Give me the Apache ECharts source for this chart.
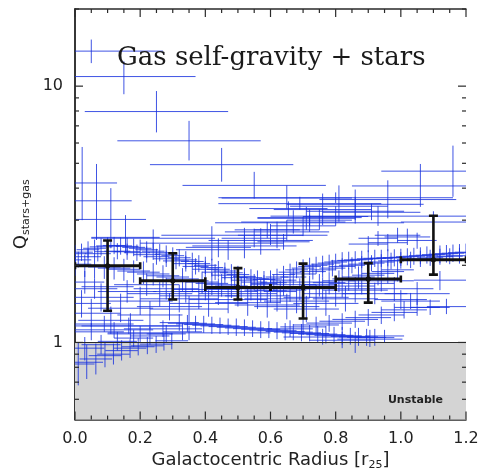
<!DOCTYPE html>
<html><head><meta charset="utf-8">
<script src="https://cdn.jsdelivr.net/npm/echarts@6.0.0/dist/echarts.min.js"></script>
<style>html,body{margin:0;padding:0;background:#fff}#c{width:483px;height:476px}</style>
</head><body><div id="c"></div>
<script>
// ---- axis ticks ----
const xTickLabels = ['0.0','0.2','0.4','0.6','0.8','1.0','1.2'];
const xMajorTicks = [0, 0.2, 0.4, 0.6, 0.8, 1.0, 1.2];
const xMinorTicks = [0.05,0.1,0.15,0.25,0.3,0.35,0.45,0.5,0.55,0.65,0.7,0.75,0.85,0.9,0.95,1.05,1.1,1.15];
const yTickLabels = ['1','10'];
const yMajorTicks = [1, 10];
const yMinorTicks = [0.6,0.7,0.8,0.9,2,3,4,5,6,7,8,9,20];

// ---- blue profiles: rows are [radius, Q, radiusErr, Qlow, Qhigh] ----
const topGalaxy = [
  [0.05,13.7,0.22,12.3,15.2],[0.15,10.9,0.22,9.3,12.5],[0.25,7.96,0.22,6.6,9.57],
  [0.35,6.12,0.22,5.13,7.32],[0.45,4.94,0.22,4.24,5.74],[0.55,4.10,0.22,3.64,4.63],
  [0.65,3.66,0.2,3.33,4.1]
];
const rightGalaxy = [
  [0.86,3.46,0.21,3.0,3.95],[0.96,3.61,0.21,3.05,4.29],[1.06,4.08,0.21,3.38,4.97],
  [1.16,4.66,0.22,3.70,5.86],[0.93,3.11,0.33,2.85,3.4],[1.10,2.95,0.1,2.75,3.25]
];
const leftGalaxy = [
  [0.022,4.19,0.107,3.0,5.79],[0.066,3.57,0.108,2.51,4.97],[0.11,3.02,0.108,2.33,4.0],
  [0.155,2.57,0.105,2.23,3.14],[0.24,2.55,0.19,2.3,2.76],[0.52,2.62,0.255,2.45,2.8],
  [0.42,2.44,0.22,2.09,2.84]
];
const risingTrack = [
  [0.47,2.30,0.16,2.10,2.51],[0.52,2.38,0.16,2.13,2.62],[0.57,2.50,0.16,2.20,2.79],
  [0.62,2.70,0.16,2.33,2.96],[0.67,2.95,0.16,2.66,3.28],[0.71,3.05,0.15,2.75,3.38],
  [0.76,3.30,0.15,2.87,3.81],[0.81,3.40,0.15,2.96,4.1],[0.86,3.25,0.15,2.91,3.7],
  [0.91,3.22,0.15,3.0,3.48],[0.44,2.35,0.1,2.15,2.55],[0.55,2.55,0.1,2.35,2.78],
  [0.60,2.62,0.1,2.4,2.9],[0.65,2.75,0.1,2.5,3.0],[0.70,2.85,0.1,2.6,3.1],
  [0.75,3.0,0.1,2.75,3.3],[0.80,3.1,0.1,2.85,3.4],
  [0.69,3.48,0.25,3.3,3.7],[0.655,3.33,0.12,3.1,3.55],[0.72,3.07,0.16,2.85,3.3],
  [0.72,2.93,0.29,2.7,3.15],[0.59,2.75,0.1,2.55,2.95],[0.64,2.47,0.08,2.3,2.65],
  [0.80,3.67,0.36,3.5,3.85]
];
const denseBand = [
  [0.00,2.22,0.035,2.05,2.40],[0.02,2.25,0.035,2.08,2.43],[0.04,2.30,0.035,2.13,2.48],
  [0.06,2.33,0.035,2.16,2.52],[0.08,2.36,0.035,2.18,2.55],[0.10,2.38,0.035,2.20,2.57],
  [0.12,2.39,0.035,2.21,2.58],[0.14,2.38,0.035,2.20,2.57],[0.16,2.37,0.035,2.19,2.56],
  [0.18,2.35,0.035,2.17,2.54],[0.20,2.33,0.035,2.16,2.52],[0.22,2.30,0.035,2.13,2.48],
  [0.24,2.27,0.035,2.10,2.45],[0.26,2.24,0.035,2.07,2.42],[0.28,2.21,0.035,2.04,2.39],
  [0.30,2.18,0.035,2.02,2.35],[0.32,2.14,0.035,1.98,2.31],[0.34,2.10,0.035,1.94,2.27],
  [0.36,2.07,0.035,1.91,2.24],[0.38,2.03,0.035,1.88,2.19],[0.40,2.00,0.035,1.85,2.16],
  [0.42,1.96,0.035,1.81,2.12],[0.44,1.93,0.035,1.79,2.08],[0.46,1.90,0.035,1.76,2.05],
  [0.48,1.87,0.035,1.73,2.02],[0.50,1.84,0.035,1.70,1.99],[0.52,1.81,0.035,1.67,1.95],
  [0.54,1.79,0.035,1.66,1.93],[0.56,1.77,0.035,1.64,1.91],[0.58,1.76,0.035,1.63,1.90],
  [0.60,1.77,0.035,1.64,1.91],[0.62,1.80,0.035,1.67,1.94],[0.64,1.84,0.035,1.70,1.99],
  [0.66,1.88,0.035,1.74,2.03],[0.68,1.92,0.035,1.78,2.07],[0.70,1.95,0.035,1.80,2.11],
  [0.72,1.98,0.035,1.83,2.14],[0.74,2.00,0.035,1.85,2.16],[0.76,2.02,0.035,1.87,2.18],
  [0.78,2.04,0.035,1.89,2.20],[0.80,2.06,0.035,1.91,2.22],[0.82,2.08,0.035,1.92,2.25],
  [0.84,2.09,0.035,1.93,2.26],[0.86,2.10,0.035,1.94,2.27],[0.88,2.11,0.035,1.95,2.28],
  [0.90,2.12,0.035,1.96,2.29],[0.92,2.13,0.035,1.97,2.30],[0.94,2.13,0.035,1.97,2.30],
  [0.96,2.14,0.035,1.98,2.31],[0.98,2.14,0.035,1.98,2.31],[1.00,2.15,0.035,1.99,2.32],
  [1.02,2.16,0.035,2.00,2.33],[1.04,2.17,0.035,2.01,2.34],[1.06,2.18,0.035,2.02,2.35],
  [1.08,2.19,0.035,2.03,2.37],[1.10,2.20,0.035,2.04,2.38],[1.12,2.21,0.035,2.04,2.39],
  [1.14,2.22,0.035,2.05,2.40],[1.16,2.23,0.035,2.06,2.41],[1.18,2.24,0.035,2.07,2.42],
  [1.20,2.25,0.035,2.08,2.43]
];
const denseBand2 = [
  [0.01,2.10,0.04,1.96,2.26],[0.04,2.16,0.04,2.01,2.32],[0.07,2.22,0.04,2.07,2.38],
  [0.10,2.26,0.04,2.10,2.43],[0.13,2.27,0.04,2.11,2.44],[0.16,2.26,0.04,2.10,2.43],
  [0.19,2.24,0.04,2.08,2.41],[0.22,2.20,0.04,2.05,2.37],[0.25,2.16,0.04,2.01,2.32],
  [0.28,2.12,0.04,1.97,2.28],[0.31,2.08,0.04,1.93,2.24],[0.34,2.03,0.04,1.89,2.18],
  [0.37,1.98,0.04,1.84,2.13],[0.40,1.93,0.04,1.79,2.08],[0.43,1.88,0.04,1.75,2.02],
  [0.46,1.83,0.04,1.70,1.97],[0.49,1.79,0.04,1.66,1.92],[0.52,1.75,0.04,1.63,1.88],
  [0.55,1.72,0.04,1.60,1.85],[0.58,1.70,0.04,1.58,1.83],[0.61,1.71,0.04,1.59,1.84],
  [0.64,1.75,0.04,1.63,1.88],[0.67,1.80,0.04,1.67,1.94],[0.70,1.85,0.04,1.72,1.99],
  [0.73,1.89,0.04,1.76,2.03],[0.76,1.92,0.04,1.79,2.06],[0.79,1.95,0.04,1.81,2.10],
  [0.82,1.98,0.04,1.84,2.13],[0.85,2.00,0.04,1.86,2.15],[0.88,2.02,0.04,1.88,2.17],
  [0.91,2.04,0.04,1.90,2.19],[0.94,2.06,0.04,1.92,2.21],[0.97,2.08,0.04,1.93,2.24],
  [1.00,2.09,0.04,1.94,2.25],[1.03,2.10,0.04,1.95,2.26],[1.06,2.12,0.04,1.97,2.28],
  [1.09,2.14,0.04,1.99,2.30],[1.12,2.16,0.04,2.01,2.32],[1.15,2.17,0.04,2.02,2.33],
  [1.18,2.18,0.04,2.03,2.34]
];
const midBand = [
  [0.00,2.02,0.05,1.82,2.22],[0.03,2.00,0.05,1.80,2.20],[0.06,1.98,0.05,1.78,2.18],
  [0.09,1.97,0.05,1.77,2.17],[0.12,1.95,0.05,1.76,2.15],[0.15,1.93,0.05,1.74,2.12],
  [0.18,1.90,0.05,1.71,2.09],[0.21,1.88,0.05,1.69,2.07],[0.24,1.85,0.05,1.67,2.04],
  [0.27,1.82,0.05,1.64,2.00],[0.30,1.80,0.05,1.62,1.98],[0.33,1.77,0.05,1.59,1.95],
  [0.36,1.74,0.05,1.57,1.91],[0.39,1.72,0.05,1.55,1.89],[0.42,1.70,0.05,1.53,1.87],
  [0.45,1.68,0.05,1.51,1.85],[0.48,1.66,0.05,1.49,1.83],[0.51,1.64,0.05,1.48,1.80],
  [0.54,1.62,0.05,1.46,1.78],[0.57,1.60,0.05,1.44,1.76],[0.60,1.59,0.05,1.43,1.75],
  [0.63,1.58,0.05,1.42,1.74],[0.66,1.60,0.05,1.44,1.76],[0.69,1.62,0.05,1.46,1.78],
  [0.72,1.65,0.05,1.49,1.82],[0.75,1.68,0.05,1.51,1.85],[0.78,1.71,0.05,1.54,1.88],
  [0.81,1.74,0.05,1.57,1.91],[0.84,1.77,0.05,1.59,1.95],[0.87,1.80,0.05,1.62,1.98],
  [0.90,1.83,0.05,1.65,2.01],[0.93,1.86,0.05,1.67,2.05],[0.96,1.89,0.05,1.70,2.08],
  [0.99,1.92,0.05,1.73,2.11]
];
const lowerMass = [
  [0.02,1.42,0.09,1.25,1.6],[0.05,1.30,0.09,1.15,1.48],[0.08,1.50,0.10,1.32,1.7],
  [0.11,1.22,0.10,1.08,1.38],[0.14,1.36,0.10,1.2,1.55],[0.17,1.16,0.15,1.03,1.3],
  [0.20,1.45,0.10,1.28,1.65],[0.23,1.28,0.10,1.13,1.45],[0.26,1.55,0.10,1.38,1.75],
  [0.29,1.38,0.10,1.22,1.56],[0.32,1.48,0.12,1.31,1.68],[0.35,1.35,0.12,1.2,1.52],
  [0.38,1.52,0.12,1.35,1.72],[0.41,1.42,0.12,1.26,1.6],[0.44,1.58,0.12,1.4,1.78],
  [0.47,1.47,0.12,1.3,1.66],[0.50,1.55,0.12,1.38,1.75],[0.53,1.43,0.10,1.27,1.62],
  [0.56,1.52,0.10,1.35,1.7],[0.59,1.40,0.10,1.25,1.58],[0.62,1.48,0.10,1.32,1.66],
  [0.65,1.38,0.10,1.23,1.55],[0.68,1.45,0.10,1.3,1.62],[0.71,1.35,0.10,1.2,1.52],
  [0.74,1.50,0.10,1.34,1.68],[0.77,1.42,0.10,1.27,1.6],[0.80,1.55,0.10,1.38,1.74],
  [0.83,1.48,0.10,1.32,1.66],[0.86,1.60,0.10,1.43,1.8],[0.98,1.62,0.12,1.45,1.8],
  [1.05,1.55,0.10,1.4,1.72],[1.12,1.75,0.08,1.6,1.9],[1.00,1.47,0.08,1.35,1.6],
  [0.03,1.72,0.06,1.55,1.9],[0.06,1.62,0.07,1.48,1.78],
  [0.05,1.10,0.10,1.02,1.19],[0.12,1.12,0.12,1.04,1.2],[0.20,1.08,0.10,1.0,1.16],
  [0.27,1.13,0.12,1.05,1.22],[0.09,1.18,0.09,1.1,1.27],
  [0.165,1.16,0.165,1.08,1.25],[0.35,1.09,0.25,1.02,1.16],
  [0.10,1.65,0.08,1.5,1.82],[0.16,1.58,0.09,1.43,1.75],[0.22,1.68,0.1,1.52,1.86],
  [0.28,1.62,0.1,1.47,1.79],[0.34,1.58,0.1,1.43,1.75],[0.40,1.61,0.1,1.46,1.78],
  [0.64,1.68,0.1,1.52,1.86],[0.70,1.72,0.1,1.56,1.9],[0.76,1.62,0.1,1.47,1.79],
  [0.82,1.66,0.1,1.5,1.84],[0.88,1.70,0.1,1.54,1.88],[0.94,1.74,0.1,1.58,1.92],
  [0.92,1.55,0.1,1.41,1.71]
];
const lowBand = [
  [0.320,1.195,0.06,1.11,1.29],[0.345,1.188,0.06,1.10,1.28],[0.370,1.181,0.06,1.10,1.27],
  [0.395,1.174,0.06,1.09,1.27],[0.420,1.167,0.06,1.08,1.26],[0.445,1.160,0.06,1.08,1.25],
  [0.470,1.153,0.06,1.07,1.24],[0.495,1.146,0.06,1.06,1.24],[0.520,1.139,0.06,1.06,1.23],
  [0.545,1.132,0.06,1.05,1.22],[0.570,1.125,0.06,1.04,1.21],[0.595,1.118,0.06,1.04,1.21],
  [0.620,1.111,0.06,1.03,1.20],[0.645,1.104,0.06,1.02,1.19],[0.670,1.097,0.06,1.02,1.18],
  [0.695,1.090,0.06,1.01,1.18],[0.720,1.084,0.06,1.01,1.17],[0.745,1.078,0.06,1.00,1.16],
  [0.770,1.072,0.06,0.99,1.16],[0.795,1.066,0.06,0.99,1.15],[0.820,1.061,0.06,0.98,1.15],
  [0.845,1.056,0.06,0.98,1.14],[0.870,1.051,0.06,0.97,1.14],[0.895,1.047,0.06,0.97,1.13],
  [0.920,1.044,0.06,0.97,1.13],
  [0.82,1.02,0.10,0.95,1.1],[0.86,1.00,0.08,0.91,1.1],[0.905,1.03,0.10,0.96,1.12],
  [0.76,1.05,0.12,0.98,1.13],[0.95,1.06,0.06,1.0,1.12]
];
const rightRise = [
  [0.66,1.13,0.07,1.05,1.22],[0.70,1.15,0.07,1.07,1.24],[0.74,1.17,0.07,1.09,1.26],
  [0.78,1.19,0.07,1.1,1.28],[0.82,1.21,0.07,1.12,1.3],[0.86,1.23,0.07,1.14,1.33],
  [0.90,1.25,0.07,1.16,1.35],[0.94,1.28,0.07,1.18,1.38],[0.98,1.31,0.07,1.21,1.42],
  [1.01,1.34,0.07,1.24,1.45],[1.05,1.37,0.07,1.27,1.48],[1.09,1.37,0.06,1.28,1.47],
  [1.14,1.38,0.06,1.29,1.48],[1.03,1.45,0.09,1.35,1.56]
];
const unstableTrack = [
  [0.010,0.824,0.05,0.68,1.0],[0.036,0.837,0.05,0.72,0.98],[0.064,0.862,0.05,0.75,0.99],
  [0.092,0.888,0.05,0.80,1.0],[0.118,0.900,0.05,0.82,0.99],[0.143,0.929,0.05,0.85,1.02],
  [0.169,0.950,0.05,0.87,1.03],[0.194,0.962,0.05,0.89,1.04],[0.222,0.970,0.05,0.90,1.05],
  [0.249,0.985,0.05,0.91,1.06],[0.273,1.000,0.05,0.93,1.08],[0.297,1.015,0.05,0.94,1.09],
  [0.03,0.95,0.06,0.85,1.05],[0.08,0.98,0.06,0.90,1.07],[0.13,1.01,0.06,0.93,1.1],
  [0.18,1.04,0.06,0.96,1.12],[0.23,1.06,0.06,0.98,1.15],[0.28,1.08,0.06,1.0,1.17],
  [0.33,1.10,0.06,1.02,1.19]
];
const rightCluster = [
  [0.90,2.42,0.06,2.25,2.6],[0.93,2.55,0.06,2.38,2.72],[0.96,2.45,0.06,2.27,2.65],
  [0.99,2.62,0.07,2.45,2.8],[1.02,2.58,0.07,2.4,2.78],[1.05,2.50,0.06,2.32,2.68]
];
// ---- binned means (black) ----
const binMeans = [
  [0.1,1.99,0.1,1.33,2.50],[0.3,1.74,0.1,1.47,2.23],[0.5,1.64,0.1,1.47,1.95],
  [0.7,1.64,0.1,1.24,2.03],[0.9,1.77,0.1,1.43,2.04],[1.1,2.10,0.1,1.84,3.12]
];

const XMIN = 0, XMAX = 1.2, YMIN = 0.5, YMAX = 20;
const blueRows = [].concat(topGalaxy, rightGalaxy, leftGalaxy, risingTrack, denseBand, denseBand2,
  midBand, lowerMass, lowBand, rightRise, unstableTrack, rightCluster);
const BLUE = 'rgba(22,48,222,0.82)';
const FRAME = '#2a2a2a';

function clampX(v){ return Math.max(XMIN, Math.min(XMAX, v)); }
function clampY(v){ return Math.max(YMIN, Math.min(YMAX, v)); }

function crossItem(params, api) {
  const x = api.value(0), y = api.value(1), xe = api.value(2), lo = api.value(3), hi = api.value(4);
  const c = api.coord([x, y]);
  const l = api.coord([clampX(x - xe), y]);
  const r = api.coord([clampX(x + xe), y]);
  const b = api.coord([x, clampY(lo)]);
  const t = api.coord([x, clampY(hi)]);
  return { type: 'group', children: [
    { type: 'line', shape: { x1: l[0], y1: c[1], x2: r[0], y2: c[1] }, style: { stroke: BLUE, lineWidth: 1 } },
    { type: 'line', shape: { x1: c[0], y1: b[1], x2: c[0], y2: t[1] }, style: { stroke: BLUE, lineWidth: 1 } }
  ]};
}
function meanItem(params, api) {
  const x = api.value(0), y = api.value(1), xe = api.value(2), lo = api.value(3), hi = api.value(4);
  const c = api.coord([x, y]);
  const l = api.coord([x - xe, y]);
  const r = api.coord([x + xe, y]);
  const b = api.coord([x, lo]);
  const t = api.coord([x, hi]);
  const st = { stroke: '#111', lineWidth: 2.6 };
  return { type: 'group', children: [
    { type: 'line', shape: { x1: l[0], y1: c[1], x2: r[0], y2: c[1] }, style: { stroke: '#111', lineWidth: 3 } },
    { type: 'line', shape: { x1: c[0], y1: b[1], x2: c[0], y2: t[1] }, style: st },
    { type: 'line', shape: { x1: c[0]-4.5, y1: b[1], x2: c[0]+4.5, y2: b[1] }, style: st },
    { type: 'line', shape: { x1: c[0]-4.5, y1: t[1], x2: c[0]+4.5, y2: t[1] }, style: st },
    { type: 'line', shape: { x1: l[0], y1: c[1]-3.5, x2: l[0], y2: c[1]+3.5 }, style: st },
    { type: 'line', shape: { x1: r[0], y1: c[1]-3.5, x2: r[0], y2: c[1]+3.5 }, style: st },
    { type: 'circle', shape: { cx: c[0], cy: c[1], r: 2.6 }, style: { fill: '#111' } }
  ]};
}

const axisLineStyle = { lineStyle: { color: FRAME, width: 1.5 } };
const textGraphics = [
  { type: 'text', x: 117, y: 58, z: 100, silent: true, style: { text: 'Gas self-gravity + stars',
    font: '26px "DejaVu Serif"', fill: '#1a1a1a', verticalAlign: 'middle' } },
  { type: 'text', x: 443, y: 400, z: 100, silent: true, style: { text: 'Unstable',
    font: 'bold 11px "DejaVu Sans"', fill: '#222', align: 'right', verticalAlign: 'middle' } }
];

const chart = echarts.init(document.getElementById('c'), null, { renderer: 'canvas' });
chart.setOption({
  animation: false,
  backgroundColor: '#fff',
  grid: { left: 75, right: 17, top: 9, bottom: 53 },
  xAxis: [
    { type: 'value', min: XMIN, max: XMAX, interval: 0.2, position: 'bottom',
      axisLine: axisLineStyle, axisTick: { show: false }, splitLine: { show: false },
      axisLabel: { margin: 11, color: '#222', fontFamily: 'DejaVu Sans', fontSize: 16,
        formatter: v => xTickLabels[Math.round(v / 0.2)] || '' },
      name: '{a|Galactocentric Radius [r}{s|25}{a|]}', nameLocation: 'middle', nameGap: 30,
      nameTextStyle: { rich: {
        a: { fontFamily: 'DejaVu Sans', fontSize: 18, color: '#222' },
        s: { fontFamily: 'DejaVu Sans', fontSize: 11, color: '#222', padding: [10, 0, 0, 0] } } } },
    { type: 'value', min: XMIN, max: XMAX, interval: 0.2, position: 'top',
      axisLine: axisLineStyle, axisTick: { show: false }, splitLine: { show: false },
      axisLabel: { show: false } }
  ],
  yAxis: [
    { type: 'log', logBase: 10, min: YMIN, max: YMAX, position: 'left',
      axisLine: axisLineStyle, axisTick: { show: false }, splitLine: { show: false },
      axisLabel: { margin: 12, color: '#222', fontFamily: 'DejaVu Sans', fontSize: 16,
        formatter: v => { const k = Math.round(Math.log10(v)); return (Math.abs(Math.log10(v) - k) < 1e-6 && yTickLabels[k] !== undefined) ? yTickLabels[k] : ''; } },
      name: '{q|Q}{s|stars+gas}', nameLocation: 'middle', nameGap: 39, nameRotate: 90,
      nameTextStyle: { rich: {
        q: { fontFamily: 'DejaVu Sans', fontSize: 18, color: '#222' },
        s: { fontFamily: 'DejaVu Sans', fontSize: 11, color: '#222', padding: [10, 0, 0, 0] } } } },
    { type: 'log', logBase: 10, min: YMIN, max: YMAX, position: 'right',
      axisLine: axisLineStyle, axisTick: { show: false }, splitLine: { show: false }, axisLabel: { show: false } }
  ],
  graphic: textGraphics,
  series: [
    { type: 'line', data: [], z: 0, silent: true,
      markArea: { silent: true, itemStyle: { color: '#d4d4d4' },
        data: [[{ xAxis: XMIN, yAxis: YMIN }, { xAxis: XMAX, yAxis: 1 }]] },
      markLine: { silent: true, symbol: 'none', label: { show: false },
        lineStyle: { color: FRAME, width: 1, type: 'solid' }, data: [{ yAxis: 1 }] } },
    { type: 'custom', z: 2, clip: true, renderItem: crossItem, data: blueRows,
      encode: { x: 0, y: 1 }, silent: true },
    { type: 'custom', z: 5, clip: true, renderItem: meanItem, data: binMeans,
      encode: { x: 0, y: 1 }, silent: true }
  ]
});

// inward ticks on all four sides, placed through the chart's own axis scales
function toPx(x, y) { return chart.convertToPixel({ xAxisIndex: 0, yAxisIndex: 0 }, [x, y]); }
const tickGraphics = [];
function addTick(x1, y1, x2, y2) {
  tickGraphics.push({ type: 'line', z: 100, silent: true,
    shape: { x1: x1, y1: y1, x2: x2, y2: y2 }, style: { stroke: FRAME, lineWidth: 1.2 } });
}
function addXTick(v, len) {
  const B = toPx(v, YMIN), T = toPx(v, YMAX);
  addTick(B[0], B[1], B[0], B[1] - len);
  addTick(T[0], T[1], T[0], T[1] + len);
}
function addYTick(v, len) {
  const L = toPx(XMIN, v), R = toPx(XMAX, v);
  addTick(L[0], L[1], L[0] + len, L[1]);
  addTick(R[0], R[1], R[0] - len, R[1]);
}
xMajorTicks.forEach(v => addXTick(v, 8));
xMinorTicks.forEach(v => addXTick(v, 4));
yMajorTicks.forEach(v => addYTick(v, 8));
yMinorTicks.forEach(v => addYTick(v, 4));
chart.setOption({ graphic: textGraphics.concat(tickGraphics) });
</script>
</body></html>
